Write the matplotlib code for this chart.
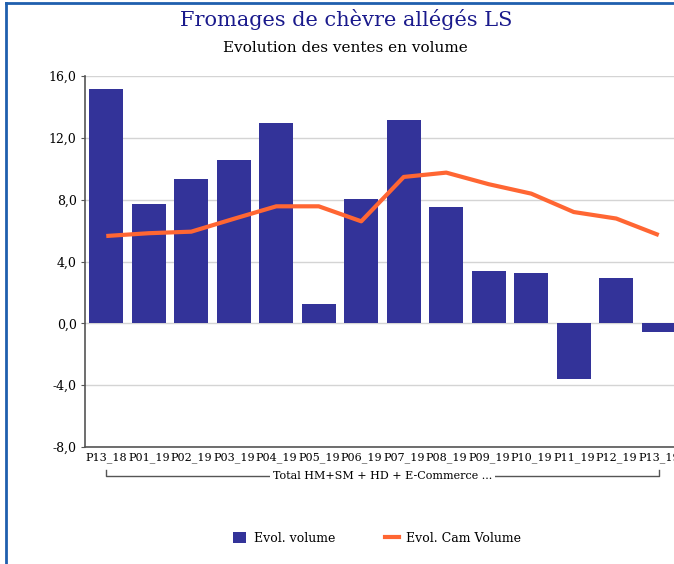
import matplotlib
matplotlib.use('Agg')
import matplotlib.pyplot as plt
from matplotlib.lines import Line2D
from matplotlib.patches import Patch
from matplotlib.ticker import FuncFormatter
import numpy as np

periods = ['P13_18', 'P01_19', 'P02_19', 'P03_19', 'P04_19', 'P05_19', 'P06_19',
           'P07_19', 'P08_19', 'P09_19', 'P10_19', 'P11_19', 'P12_19', 'P13_19']
evol_volume = [15.15, 7.70, 9.32, 10.55, 12.95, 1.23, 8.03, 13.14, 7.51, 3.37, 3.24, -3.62, 2.92, -0.58]
evol_cam = [5.65, 5.83, 5.93, 6.76, 7.57, 7.57, 6.60, 9.47, 9.75, 9.00, 8.39, 7.20, 6.78, 5.71]
group_label = 'Total HM+SM + HD + E-Commerce ...'
yticks = [-8, -4, 0, 4, 8, 12, 16]

plt.rcParams['font.family'] = ['DejaVu Serif']
bar_col = '#333399'
line_col = '#ff6633'

fig = plt.figure(figsize=(6.74, 5.64), dpi=100)
ax = fig.add_axes([85/674, 1-447/564, 595/674, 371/564])

x = np.arange(len(periods))
ax.bar(x, evol_volume, width=0.8, color=bar_col, zorder=2)
ax.plot(x, evol_cam, color=line_col, lw=3, zorder=3, solid_capstyle='butt')

ax.set_xlim(-0.5, len(periods) - 0.5)
ax.set_ylim(-8, 16)
ax.set_yticks(yticks)
ax.yaxis.set_major_formatter(FuncFormatter(lambda v, p: ('%.1f' % v).replace('.', ',')))
ax.set_xticks(x)
ax.set_xticklabels(periods)
ax.tick_params(axis='x', length=0, pad=4, labelsize=8)
ax.tick_params(axis='y', length=3, pad=3, labelsize=9, color='#555555')
ax.grid(axis='y', color='#d4d4d4', lw=1, zorder=0)
for s in ['top', 'right']:
    ax.spines[s].set_visible(False)
for s in ['left', 'bottom']:
    ax.spines[s].set_color('#555555')
    ax.spines[s].set_linewidth(1.2)

# group bracket under the category labels
tr = ax.get_xaxis_transform()
yb = -0.078
yt = -0.062
ax.plot([0, 0, len(periods) - 1, len(periods) - 1], [yt, yb, yb, yt], transform=tr,
        color='#555555', lw=1, clip_on=False)
ax.text((len(periods) - 1) / 2, yb, group_label, transform=tr, ha='center', va='center',
        fontsize=8, clip_on=False,
        bbox=dict(facecolor='white', edgecolor='none', pad=2))

fig.text(0.513, 1-20/564, 'Fromages de chèvre allégés LS', ha='center', va='center',
         fontsize=15, color='#1a1a8c')
fig.text(0.513, 1-48/564, 'Evolution des ventes en volume', ha='center', va='center',
         fontsize=11, color='black')

handles = [Patch(facecolor=bar_col, edgecolor='none'),
           Line2D([0], [0], color=line_col, lw=3)]
fig.legend(handles, ['Evol. volume', 'Evol. Cam Volume'], loc='center',
           bbox_to_anchor=(377/674, 1-538/564), ncol=2, frameon=False, fontsize=9,
           handlelength=1.1, handleheight=1.0, columnspacing=4.0, handletextpad=0.6)

# outer frame (left and top edges visible)
fig.add_artist(Line2D([6/674, 6/674], [0, 1-3/564], color='#1f5fae', lw=2))
fig.add_artist(Line2D([6/674, 1], [1-3/564, 1-3/564], color='#1f5fae', lw=2))

fig.savefig('out.png', dpi=100)
